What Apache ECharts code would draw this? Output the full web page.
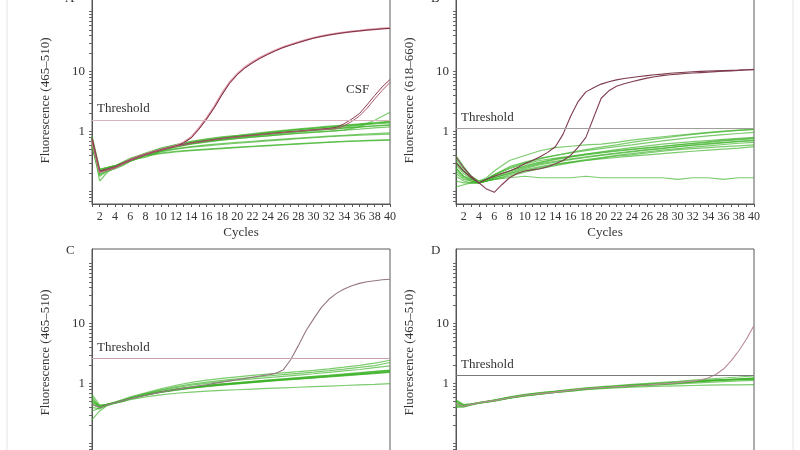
<!DOCTYPE html>
<html>
<head>
<meta charset="utf-8">
<script src="https://cdn.jsdelivr.net/npm/echarts@6/dist/echarts.min.js"></script>
<style>
  html, body { margin: 0; padding: 0; background: #fff; }
  #chart { width: 800px; height: 450px; }
</style>
</head>
<body>
<div id="chart"></div>
<script>
const greenCycles = [1, 2, 3, 4, 5, 6, 8, 10, 12, 14, 16, 18, 20, 22, 24, 26, 28, 30, 32, 34, 36, 38, 40];
// every cycle, used for the positive (red) runs
const allCycles = [1, 2, 3, 4, 5, 6, 7, 8, 9, 10, 11, 12, 13, 14, 15, 16, 17, 18, 19, 20,
  21, 22, 23, 24, 25, 26, 27, 28, 29, 30, 31, 32, 33, 34, 35, 36, 37, 38, 39, 40];

const panelLetters = ['A', 'B', 'C', 'D'];
const yNames = ['Fluorescence (465–510)', 'Fluorescence (618–660)', 'Fluorescence (465–510)', 'Fluorescence (465–510)'];
const thresholds = [1.53, 1.12, 2.6, 1.36];
const yLabels = [1, 10];
const minorTicks = [0.07, 0.08, 0.09, 0.1, 0.2, 0.3, 0.4, 0.5, 0.6, 0.7, 0.8, 0.9, 1,
  2, 3, 4, 5, 6, 7, 8, 9, 10, 20, 30, 40, 50, 60, 70, 80, 90, 100];

const greenA = [
  [0.78, 0.22, 0.24, 0.26, 0.30, 0.35, 0.43, 0.52, 0.60, 0.68, 0.74, 0.80, 0.85, 0.90, 0.96, 1.02, 1.08, 1.13, 1.19, 1.25, 1.31, 1.38, 1.45],
  [0.62, 0.20, 0.23, 0.25, 0.28, 0.33, 0.41, 0.49, 0.57, 0.64, 0.70, 0.75, 0.80, 0.85, 0.90, 0.95, 1.00, 1.05, 1.10, 1.15, 1.20, 1.25, 1.30],
  [0.85, 0.24, 0.25, 0.27, 0.31, 0.36, 0.44, 0.53, 0.61, 0.69, 0.76, 0.82, 0.87, 0.93, 0.99, 1.05, 1.11, 1.17, 1.23, 1.29, 1.35, 1.42, 1.50],
  [0.55, 0.18, 0.22, 0.24, 0.27, 0.32, 0.40, 0.48, 0.56, 0.63, 0.69, 0.74, 0.79, 0.84, 0.89, 0.94, 0.99, 1.04, 1.09, 1.14, 1.19, 1.24, 1.28],
  [0.68, 0.15, 0.21, 0.25, 0.29, 0.34, 0.37, 0.47, 0.55, 0.62, 0.67, 0.72, 0.76, 0.81, 0.85, 0.90, 0.94, 0.98, 1.02, 1.06, 1.10, 1.15, 1.20],
  [0.72, 0.21, 0.24, 0.26, 0.30, 0.34, 0.42, 0.50, 0.59, 0.66, 0.72, 0.78, 0.83, 0.88, 0.93, 0.98, 1.03, 1.09, 1.14, 1.20, 1.27, 1.34, 1.40],
  [0.60, 0.22, 0.24, 0.26, 0.29, 0.33, 0.40, 0.44, 0.47, 0.49, 0.51, 0.53, 0.55, 0.57, 0.59, 0.61, 0.63, 0.65, 0.67, 0.69, 0.70, 0.72, 0.73],
  [0.66, 0.21, 0.23, 0.25, 0.28, 0.32, 0.39, 0.43, 0.46, 0.48, 0.50, 0.52, 0.54, 0.56, 0.58, 0.60, 0.62, 0.64, 0.66, 0.68, 0.70, 0.71, 0.72],
  [0.75, 0.23, 0.25, 0.27, 0.30, 0.34, 0.41, 0.47, 0.52, 0.56, 0.60, 0.63, 0.66, 0.69, 0.72, 0.75, 0.78, 0.81, 0.84, 0.87, 0.90, 0.93, 0.95],
  [0.58, 0.19, 0.22, 0.24, 0.28, 0.32, 0.40, 0.46, 0.51, 0.55, 0.58, 0.61, 0.64, 0.67, 0.70, 0.73, 0.76, 0.79, 0.82, 0.85, 0.87, 0.89, 0.91],
  [0.80, 0.23, 0.25, 0.27, 0.30, 0.35, 0.42, 0.50, 0.57, 0.63, 0.68, 0.73, 0.77, 0.81, 0.85, 0.89, 0.93, 0.97, 1.01, 1.06, 1.20, 1.55, 2.10],
  [0.64, 0.20, 0.22, 0.25, 0.29, 0.33, 0.41, 0.49, 0.57, 0.65, 0.72, 0.78, 0.84, 0.90, 0.96, 1.02, 1.08, 1.14, 1.20, 1.26, 1.32, 1.38, 1.44]
];
const greenB = [
  [0.40, 0.26, 0.18, 0.15, 0.17, 0.22, 0.33, 0.40, 0.48, 0.54, 0.57, 0.60, 0.62, 0.66, 0.72, 0.77, 0.82, 0.87, 0.92, 0.97, 1.02, 1.06, 1.10],
  [0.30, 0.22, 0.17, 0.15, 0.16, 0.19, 0.25, 0.30, 0.35, 0.40, 0.45, 0.50, 0.55, 0.60, 0.66, 0.72, 0.78, 0.84, 0.90, 0.95, 1.00, 1.05, 1.08],
  [0.35, 0.24, 0.18, 0.14, 0.16, 0.19, 0.26, 0.31, 0.36, 0.40, 0.44, 0.48, 0.52, 0.56, 0.60, 0.65, 0.70, 0.75, 0.80, 0.85, 0.89, 0.93, 0.97],
  [0.25, 0.18, 0.15, 0.14, 0.16, 0.18, 0.22, 0.27, 0.31, 0.35, 0.38, 0.41, 0.44, 0.47, 0.50, 0.53, 0.56, 0.60, 0.64, 0.68, 0.72, 0.75, 0.78],
  [0.20, 0.16, 0.15, 0.14, 0.16, 0.19, 0.24, 0.29, 0.33, 0.36, 0.39, 0.42, 0.45, 0.48, 0.51, 0.54, 0.57, 0.60, 0.63, 0.66, 0.70, 0.73, 0.76],
  [0.28, 0.20, 0.16, 0.14, 0.15, 0.17, 0.20, 0.24, 0.28, 0.31, 0.34, 0.37, 0.40, 0.43, 0.46, 0.49, 0.52, 0.56, 0.60, 0.63, 0.66, 0.69, 0.72],
  [0.18, 0.15, 0.14, 0.14, 0.15, 0.17, 0.21, 0.25, 0.29, 0.32, 0.35, 0.38, 0.41, 0.44, 0.47, 0.50, 0.53, 0.56, 0.59, 0.62, 0.65, 0.68, 0.70],
  [0.22, 0.17, 0.15, 0.14, 0.15, 0.16, 0.19, 0.22, 0.25, 0.28, 0.31, 0.34, 0.37, 0.40, 0.43, 0.46, 0.49, 0.52, 0.55, 0.58, 0.61, 0.64, 0.66],
  [0.15, 0.14, 0.14, 0.14, 0.15, 0.16, 0.18, 0.21, 0.24, 0.27, 0.30, 0.33, 0.36, 0.39, 0.41, 0.44, 0.47, 0.50, 0.52, 0.54, 0.56, 0.58, 0.60],
  [0.32, 0.22, 0.17, 0.14, 0.15, 0.17, 0.20, 0.23, 0.26, 0.29, 0.31, 0.33, 0.35, 0.37, 0.39, 0.41, 0.43, 0.45, 0.47, 0.49, 0.51, 0.53, 0.56],
  [0.12, 0.13, 0.14, 0.14, 0.15, 0.16, 0.17, 0.18, 0.17, 0.17, 0.17, 0.18, 0.17, 0.17, 0.17, 0.17, 0.17, 0.16, 0.17, 0.17, 0.16, 0.17, 0.17],
  [0.24, 0.18, 0.16, 0.14, 0.16, 0.18, 0.22, 0.26, 0.30, 0.34, 0.38, 0.42, 0.46, 0.50, 0.54, 0.58, 0.62, 0.65, 0.68, 0.71, 0.74, 0.77, 0.80]
];
const greenC = [
  [0.50, 0.42, 0.45, 0.48, 0.52, 0.57, 0.65, 0.73, 0.80, 0.86, 0.92, 0.97, 1.02, 1.07, 1.12, 1.17, 1.22, 1.28, 1.34, 1.40, 1.47, 1.54, 1.62],
  [0.60, 0.40, 0.44, 0.47, 0.51, 0.56, 0.64, 0.72, 0.79, 0.85, 0.91, 0.96, 1.01, 1.06, 1.11, 1.16, 1.21, 1.26, 1.32, 1.38, 1.44, 1.51, 1.58],
  [0.40, 0.38, 0.44, 0.48, 0.52, 0.57, 0.66, 0.74, 0.81, 0.88, 0.94, 0.99, 1.04, 1.09, 1.14, 1.20, 1.26, 1.32, 1.38, 1.45, 1.52, 1.60, 1.68],
  [0.66, 0.44, 0.45, 0.48, 0.52, 0.56, 0.64, 0.71, 0.78, 0.84, 0.90, 0.95, 1.00, 1.05, 1.10, 1.15, 1.20, 1.25, 1.31, 1.37, 1.43, 1.50, 1.57],
  [0.45, 0.40, 0.45, 0.49, 0.54, 0.60, 0.70, 0.82, 0.94, 1.05, 1.14, 1.22, 1.30, 1.37, 1.44, 1.51, 1.58, 1.66, 1.76, 1.88, 2.02, 2.20, 2.45],
  [0.52, 0.41, 0.45, 0.49, 0.53, 0.58, 0.68, 0.79, 0.89, 0.98, 1.06, 1.13, 1.20, 1.27, 1.34, 1.41, 1.48, 1.56, 1.65, 1.75, 1.86, 2.00, 2.25],
  [0.35, 0.39, 0.44, 0.48, 0.52, 0.57, 0.67, 0.77, 0.86, 0.94, 1.01, 1.08, 1.14, 1.20, 1.26, 1.32, 1.39, 1.46, 1.54, 1.63, 1.72, 1.85, 1.98],
  [0.55, 0.43, 0.45, 0.47, 0.50, 0.54, 0.60, 0.65, 0.69, 0.72, 0.75, 0.77, 0.79, 0.81, 0.83, 0.85, 0.87, 0.89, 0.91, 0.93, 0.95, 0.97, 1.00],
  [0.48, 0.41, 0.45, 0.48, 0.52, 0.57, 0.65, 0.72, 0.78, 0.84, 0.89, 0.94, 0.99, 1.04, 1.09, 1.14, 1.19, 1.24, 1.29, 1.35, 1.41, 1.47, 1.54],
  [0.25, 0.35, 0.43, 0.47, 0.51, 0.56, 0.65, 0.73, 0.81, 0.87, 0.93, 0.98, 1.03, 1.08, 1.14, 1.19, 1.25, 1.31, 1.37, 1.43, 1.50, 1.58, 1.66]
];
const greenD = [
  [0.46, 0.42, 0.45, 0.48, 0.50, 0.52, 0.58, 0.64, 0.68, 0.72, 0.77, 0.82, 0.86, 0.89, 0.92, 0.95, 0.98, 1.02, 1.07, 1.11, 1.14, 1.17, 1.19],
  [0.52, 0.44, 0.46, 0.48, 0.50, 0.53, 0.59, 0.65, 0.69, 0.73, 0.78, 0.82, 0.87, 0.90, 0.93, 0.96, 0.99, 1.03, 1.08, 1.12, 1.16, 1.20, 1.23],
  [0.40, 0.41, 0.44, 0.47, 0.49, 0.51, 0.57, 0.63, 0.67, 0.71, 0.76, 0.81, 0.85, 0.88, 0.91, 0.94, 0.97, 1.01, 1.06, 1.10, 1.13, 1.16, 1.18],
  [0.54, 0.45, 0.46, 0.48, 0.51, 0.53, 0.60, 0.66, 0.71, 0.75, 0.80, 0.85, 0.89, 0.93, 0.97, 1.01, 1.05, 1.09, 1.14, 1.19, 1.24, 1.29, 1.35],
  [0.44, 0.42, 0.45, 0.47, 0.49, 0.52, 0.58, 0.63, 0.67, 0.71, 0.75, 0.79, 0.82, 0.85, 0.87, 0.89, 0.91, 0.92, 0.93, 0.94, 0.95, 0.95, 0.96],
  [0.48, 0.43, 0.45, 0.48, 0.50, 0.52, 0.58, 0.64, 0.69, 0.73, 0.78, 0.83, 0.87, 0.90, 0.94, 0.97, 1.00, 1.04, 1.08, 1.12, 1.15, 1.18, 1.21],
  [0.42, 0.41, 0.44, 0.47, 0.50, 0.53, 0.59, 0.65, 0.70, 0.74, 0.79, 0.83, 0.87, 0.91, 0.95, 0.98, 1.02, 1.06, 1.10, 1.14, 1.17, 1.20, 1.24],
  [0.50, 0.43, 0.45, 0.47, 0.49, 0.51, 0.57, 0.62, 0.67, 0.71, 0.75, 0.80, 0.84, 0.87, 0.90, 0.93, 0.96, 0.99, 1.02, 1.05, 1.08, 1.11, 1.13]
];

const redA = [
  [0.70, 0.21, 0.23, 0.25, 0.29, 0.34, 0.38, 0.42, 0.46, 0.50, 0.54, 0.58, 0.66, 0.81, 1.14, 1.68, 2.6, 4.3, 6.6, 9.1, 11.8, 14.4, 17.1, 19.8, 22.7, 25.6, 28.3, 31.0, 33.8, 36.6, 39.0, 41.3, 43.3, 45.2, 46.9, 48.3, 49.8, 51.1, 52.3, 53.3],
  [0.74, 0.22, 0.23, 0.25, 0.29, 0.33, 0.37, 0.41, 0.45, 0.49, 0.53, 0.57, 0.65, 0.79, 1.10, 1.62, 2.5, 4.1, 6.4, 8.9, 11.5, 14.0, 16.7, 19.4, 22.3, 25.2, 27.8, 30.5, 33.4, 36.2, 38.6, 40.8, 42.8, 44.8, 46.4, 47.8, 49.3, 50.6, 51.8, 52.8],
  [0.80, 0.22, 0.24, 0.26, 0.30, 0.34, 0.38, 0.42, 0.46, 0.50, 0.54, 0.58, 0.61, 0.65, 0.68, 0.71, 0.74, 0.77, 0.80, 0.82, 0.85, 0.87, 0.90, 0.92, 0.95, 0.97, 1.00, 1.02, 1.05, 1.07, 1.10, 1.13, 1.18, 1.35, 1.62, 2.0, 2.8, 4.0, 5.6, 7.4],
  [0.68, 0.21, 0.23, 0.25, 0.29, 0.33, 0.37, 0.41, 0.45, 0.49, 0.53, 0.57, 0.60, 0.64, 0.67, 0.70, 0.73, 0.76, 0.79, 0.81, 0.84, 0.86, 0.89, 0.91, 0.94, 0.96, 0.99, 1.01, 1.04, 1.06, 1.08, 1.10, 1.12, 1.25, 1.48, 1.82, 2.45, 3.5, 4.9, 6.6]
];
const redB = [
  [0.30, 0.22, 0.17, 0.14, 0.16, 0.18, 0.20, 0.22, 0.25, 0.29, 0.33, 0.38, 0.45, 0.56, 0.90, 1.8, 3.2, 4.6, 5.4, 6.2, 6.8, 7.3, 7.7, 8.0, 8.3, 8.6, 8.9, 9.1, 9.4, 9.6, 9.8, 9.95, 10.1, 10.2, 10.3, 10.4, 10.5, 10.6, 10.75, 10.9],
  [0.38, 0.25, 0.18, 0.14, 0.11, 0.097, 0.13, 0.17, 0.20, 0.22, 0.23, 0.24, 0.26, 0.29, 0.33, 0.40, 0.55, 0.80, 1.7, 3.6, 4.8, 5.7, 6.3, 6.8, 7.3, 7.8, 8.2, 8.6, 8.9, 9.1, 9.3, 9.5, 9.65, 9.8, 10.0, 10.15, 10.3, 10.5, 10.65, 10.8]
];
const redC = [
  [0.45, 0.40, 0.44, 0.48, 0.52, 0.56, 0.60, 0.64, 0.68, 0.72, 0.76, 0.80, 0.84, 0.88, 0.92, 0.96, 1.01, 1.06, 1.11, 1.16, 1.22, 1.28, 1.34, 1.40, 1.48, 1.68, 2.5, 4.3, 7.6, 12.0, 18.5, 25.5, 32, 38, 43, 47, 50, 52, 54, 55]
];
const redD = [
  [0.46, 0.42, 0.45, 0.48, 0.50, 0.52, 0.55, 0.58, 0.61, 0.64, 0.66, 0.68, 0.70, 0.72, 0.75, 0.77, 0.80, 0.82, 0.84, 0.86, 0.87, 0.89, 0.90, 0.92, 0.93, 0.95, 0.97, 0.99, 1.01, 1.04, 1.07, 1.10, 1.15, 1.24, 1.42, 1.75, 2.4, 3.5, 5.5, 9.3]
];

const greens = [greenA, greenB, greenC, greenD];
const reds = [redA, redB, redC, redD];

// styling
const serif = '"Liberation Serif", "Times New Roman", serif';
const boxes = [[92, -3], [456, -3], [92, 249], [456, 249]];
const plotW = 298, plotH = 207;
const thresholdColors = ['#d8b4bc', '#a39c9c', '#c9a2aa', '#7a7a7a'];
const redColors = [
  ['#de98a8', '#7b2f42', '#8c3b4d', '#a85a6c'],
  ['#7d3a4c', '#804052'],
  ['#957880'],
  ['#b88a94']
];
const redWidths = [[2, 1, 1, 1], [1.1, 1.1], [1.1], [1.1]];

const chart = echarts.init(document.getElementById('chart'));

const grid = [], xAxis = [], yAxis = [], series = [];

panelLetters.forEach((p, i) => {
  grid.push({
    left: boxes[i][0], top: boxes[i][1], width: plotW, height: plotH,
    outerBoundsMode: 'none', containLabel: false,
    show: true, borderColor: '#5a5a5a', borderWidth: 1, backgroundColor: 'transparent'
  });

  xAxis.push({
    type: 'value', gridIndex: i, min: 1, max: 40, interval: 1,
    name: 'Cycles', nameLocation: 'middle', nameGap: 22,
    nameTextStyle: { fontFamily: serif, fontSize: 13, color: '#333' },
    axisLine: { lineStyle: { color: '#555' } },
    axisTick: { length: 3, lineStyle: { color: '#555' } },
    axisLabel: {
      fontFamily: serif, fontSize: 12, color: '#333', margin: 7,
      formatter: v => (v % 2 === 0 ? String(v) : '')
    },
    splitLine: { show: false }
  });

  // main log axis with labels at 1 and 10
  yAxis.push({
    type: 'log', logBase: 10, gridIndex: i, position: 'left', min: 0.062, max: 176,
    name: yNames[i], nameLocation: 'middle', nameGap: 40,
    nameTextStyle: { fontFamily: serif, fontSize: 13, color: '#333' },
    axisLine: { lineStyle: { color: '#555' } },
    axisTick: { show: false },
    axisLabel: {
      fontFamily: serif, fontSize: 13, color: '#333', margin: 7,
      formatter: v => {
        for (const t of yLabels) if (Math.abs(v - t) < 1e-6 * t) return String(t);
        return '';
      }
    },
    splitLine: { show: false }
  });
  // second log axis only for the decade tick marks
  yAxis.push({
    type: 'log', logBase: 10, gridIndex: i, position: 'left', min: 0.062, max: 176,
    axisLine: { show: false },
    axisTick: { show: true, length: 3, customValues: minorTicks, lineStyle: { color: '#666' } },
    axisLabel: { show: false },
    splitLine: { show: false }
  });

  greens[i].forEach((row, k) => {
    const s = {
      type: 'line', xAxisIndex: i, yAxisIndex: 2 * i, silent: true,
      symbol: 'none', animation: false,
      lineStyle: { color: 'rgba(62,178,42,0.68)', width: 1.2 },
      data: greenCycles.map((c, j) => [c, row[j]])
    };
    if (k === 0) {
      s.markLine = {
        silent: true, symbol: ['none', 'none'], animation: false,
        lineStyle: { color: thresholdColors[i], width: 1.2, type: 'solid' },
        label: {
          show: true, position: 'insideStartTop', formatter: 'Threshold',
          fontFamily: serif, fontSize: 13, color: '#333'
        },
        data: [{ yAxis: thresholds[i] }]
      };
    }
    series.push(s);
  });

  reds[i].forEach((row, k) => {
    series.push({
      type: 'line', xAxisIndex: i, yAxisIndex: 2 * i, silent: true,
      symbol: 'none', animation: false, z: 3,
      lineStyle: { color: redColors[i][k], width: redWidths[i][k] },
      data: allCycles.map((c, j) => [c, row[j]])
    });
  });
});

const txt = (t, x, y, size) => ({
  type: 'text', x: x, y: y, silent: true,
  style: { text: t, font: size + 'px ' + serif, fill: '#333' }
});

chart.setOption({
  backgroundColor: '#fff',
  animation: false,
  grid, xAxis, yAxis, series,
  graphic: [
    { type: 'line', silent: true, shape: { x1: 7, y1: 0, x2: 7, y2: 450 }, style: { stroke: '#e4e4e4', lineWidth: 1 } },
    { type: 'line', silent: true, shape: { x1: 793, y1: 0, x2: 793, y2: 450 }, style: { stroke: '#e4e4e4', lineWidth: 1 } },
    txt('A', 65, -8, 13),
    txt('B', 431, -8, 13),
    txt('C', 66, 244, 13),
    txt('D', 431, 244, 13),
    txt('CSF', 346, 83, 13)
  ]
});
</script>
</body>
</html>
